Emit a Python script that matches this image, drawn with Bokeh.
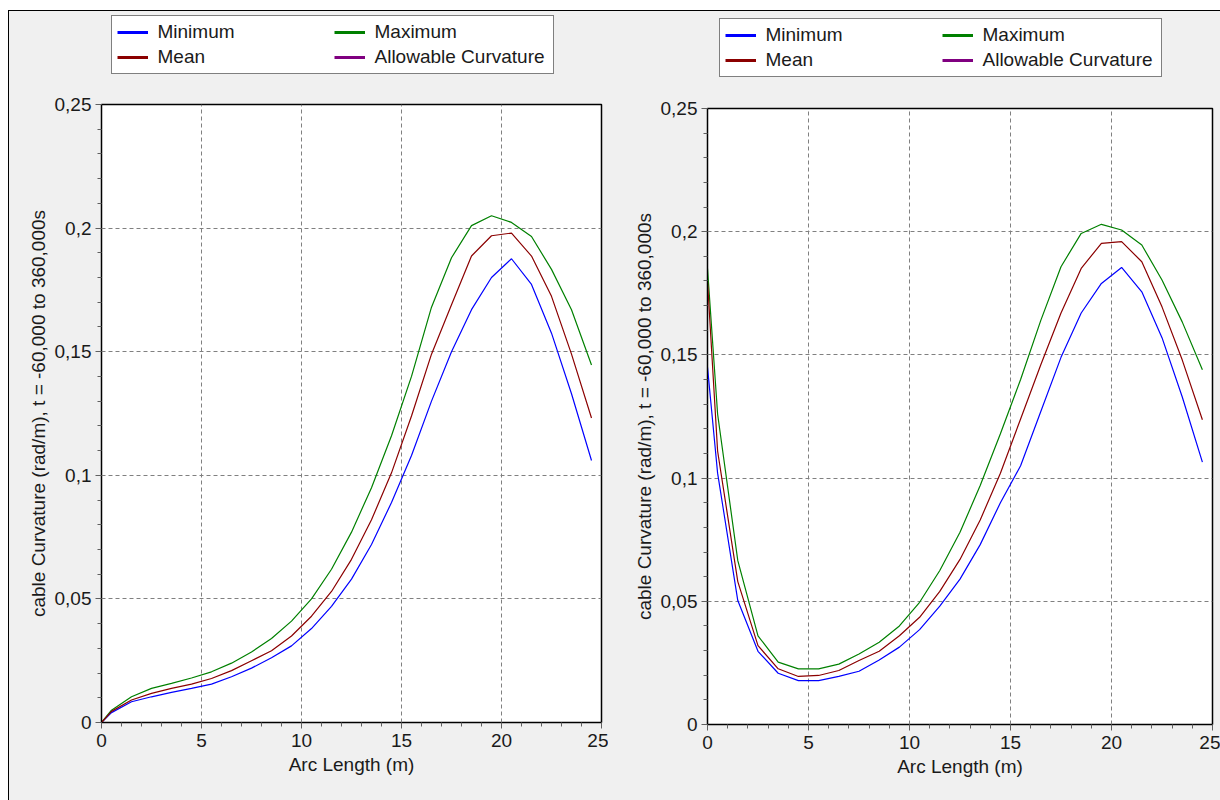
from bokeh.plotting import figure
from bokeh.models import (Legend, LegendItem, FixedTicker, CustomJSTickFormatter,
                          Range1d)
from bokeh.layouts import row, column
from bokeh.embed import file_html
from bokeh.resources import INLINE

# ---------------- data ----------------
arc_length = [0, 0.5, 1.5, 2.5, 3.5, 4.5, 5.5, 6.5, 7.5, 8.5, 9.5, 10.5, 11.5,
              12.5, 13.5, 14.5, 15.5, 16.5, 17.5, 18.5, 19.5, 20.5, 21.5, 22.5,
              23.5, 24.5]

left_minimum = [0, 0.004, 0.0084, 0.0104, 0.0122, 0.0138, 0.0155, 0.0185, 0.022,
                0.0262, 0.031, 0.038, 0.047, 0.058, 0.072, 0.089, 0.108, 0.130,
                0.150, 0.167, 0.180, 0.1876, 0.1772, 0.1575, 0.133, 0.106]
left_mean = [0, 0.0045, 0.0091, 0.0118, 0.0138, 0.0155, 0.0178, 0.021, 0.025,
             0.029, 0.035, 0.043, 0.053, 0.066, 0.082, 0.101, 0.124, 0.149,
             0.169, 0.1887, 0.1969, 0.198, 0.1887, 0.1724, 0.149, 0.1232]
left_maximum = [0, 0.005, 0.0104, 0.0138, 0.0158, 0.0180, 0.0205, 0.0240, 0.0285,
                0.034, 0.041, 0.050, 0.062, 0.077, 0.095, 0.116, 0.140, 0.168,
                0.188, 0.201, 0.205, 0.2023, 0.1966, 0.1833, 0.167, 0.1446]

right_minimum = [0.145, 0.102, 0.0503, 0.0297, 0.0208, 0.0178, 0.0178, 0.0195,
                 0.0216, 0.0262, 0.0314, 0.0385, 0.048, 0.059, 0.073, 0.090,
                 0.105, 0.127, 0.149, 0.167, 0.179, 0.1855, 0.1756, 0.157,
                 0.133, 0.1065]
right_mean = [0.18, 0.111, 0.058, 0.032, 0.0226, 0.0195, 0.0199, 0.0219, 0.026,
              0.0297, 0.036, 0.0435, 0.054, 0.067, 0.083, 0.102, 0.124, 0.146,
              0.167, 0.1851, 0.1953, 0.196, 0.1878, 0.1695, 0.148, 0.1237]
right_maximum = [0.185, 0.126, 0.0665, 0.036, 0.0253, 0.0226, 0.0226, 0.0245,
                 0.0286, 0.0334, 0.040, 0.0496, 0.0625, 0.078, 0.097, 0.118,
                 0.140, 0.164, 0.1858, 0.1993, 0.203, 0.2007, 0.1946, 0.1804,
                 0.1634, 0.144]

# Allowable Curvature: no value falls inside the plotted range
allowable_curvature = [float("nan")] * len(arc_length)

# legend order (Bokeh fills the two columns top-to-bottom)
series_names = ["Minimum", "Mean", "Maximum", "Allowable Curvature"]
series_colors = ["#0000FF", "#8B0000", "#008000", "#800080"]

x_ticks = [0, 5, 10, 15, 20, 25]
y_ticks = [0, 0.05, 0.1, 0.15, 0.2, 0.25]
x_label = "Arc Length (m)"
y_label = "cable Curvature (rad/m), t = -60,000 to 360,000s"

FONT = "Liberation Sans"
FS = "19px"
BG = "#F0F0F0"


def make_legend_fig(width, height, loc):
    lf = figure(width=width, height=height, output_backend="svg",
                toolbar_location=None, x_axis_location=None,
                y_axis_location=None, x_range=Range1d(0, 1),
                y_range=Range1d(0, 1), min_border=0)
    lf.border_fill_color = BG
    lf.background_fill_color = BG
    lf.outline_line_color = None
    lf.grid.visible = False
    items = []
    for name, col in zip(series_names, series_colors):
        r = lf.line(arc_length, allowable_curvature, line_color=col,
                    line_width=3)
        items.append(LegendItem(label=name, renderers=[r]))
    leg = Legend(items=items, location=loc, ncols=2,
                 border_line_color="black", border_line_width=1.5,
                 background_fill_color="white", background_fill_alpha=1,
                 label_text_font=FONT, label_text_font_size=FS,
                 label_text_color="#1a1a1a",
                 glyph_width=31, glyph_height=20, label_height=20,
                 label_width=173, label_standoff=10, spacing=3, padding=5,
                 margin=0)
    lf.add_layout(leg, "center")
    return lf


def make_plot(width, height, bl, br, bt, bb, mins, means, maxs):
    p = figure(width=width, height=height, output_backend="svg",
               toolbar_location=None, x_range=Range1d(0, 25),
               y_range=Range1d(0, 0.25),
               min_border_left=bl, min_border_right=br,
               min_border_top=bt, min_border_bottom=bb)
    p.border_fill_color = BG
    p.background_fill_color = "white"
    p.outline_line_color = "black"
    p.outline_line_width = 1.5

    p.xaxis.ticker = FixedTicker(ticks=x_ticks,
                                 minor_ticks=[i for i in range(0, 26)])
    p.yaxis.ticker = FixedTicker(ticks=y_ticks,
                                 minor_ticks=[i / 100 for i in range(0, 26)])
    p.yaxis.formatter = CustomJSTickFormatter(
        code="return tick.toFixed(2).replace(/\\.?0+$/, '').replace('.', ',');")
    for ax in (p.xaxis[0], p.yaxis[0]):
        ax.axis_line_color = "black"
        ax.major_tick_line_color = "#606060"
        ax.minor_tick_line_color = "#606060"
        ax.major_tick_out = 6
        ax.major_tick_in = 0
        ax.minor_tick_out = 4
        ax.minor_tick_in = 0
        ax.major_label_text_font = FONT
        ax.major_label_text_font_size = FS
        ax.major_label_text_color = "#1a1a1a"
        ax.axis_label_text_font = FONT
        ax.axis_label_text_font_size = FS
        ax.axis_label_text_font_style = "normal"
        ax.axis_label_text_color = "#1a1a1a"
    p.xaxis.axis_label = x_label
    p.yaxis.axis_label = y_label
    p.xaxis.major_label_standoff = 5
    p.yaxis.major_label_standoff = 4
    p.xaxis.axis_label_standoff = 4
    p.yaxis.axis_label_standoff = 3

    p.grid.grid_line_color = "#808080"
    p.grid.grid_line_dash = "4 3"
    p.grid.grid_line_width = 1

    p.line(arc_length, mins, line_color="#0000FF", line_width=1.2)
    p.line(arc_length, maxs, line_color="#008000", line_width=1.2)
    p.line(arc_length, means, line_color="#8B0000", line_width=1.2)
    p.line(arc_length, allowable_curvature, line_color="#800080",
           line_width=1.2)
    return p


l1 = make_legend_fig(599, 81, (9.5, 18))
p1 = make_plot(599, 708, 92, 7, 12, 78, left_minimum, left_mean, left_maximum)
l2 = make_legend_fig(612, 85, (11.5, 19))
p2 = make_plot(612, 704, 99, 8, 12, 76, right_minimum, right_mean,
               right_maximum)

layout = row(column(l1, p1, spacing=0, styles={"background-color": BG}),
             column(l2, p2, spacing=0, styles={"background-color": BG}),
             spacing=0,
             styles={"border-top": "1px solid black",
                     "border-left": "1px solid black",
                     "background-color": BG,
                     "margin-left": "8px", "margin-top": "10px"})
open("out.html", "w").write(file_html(layout, INLINE))
